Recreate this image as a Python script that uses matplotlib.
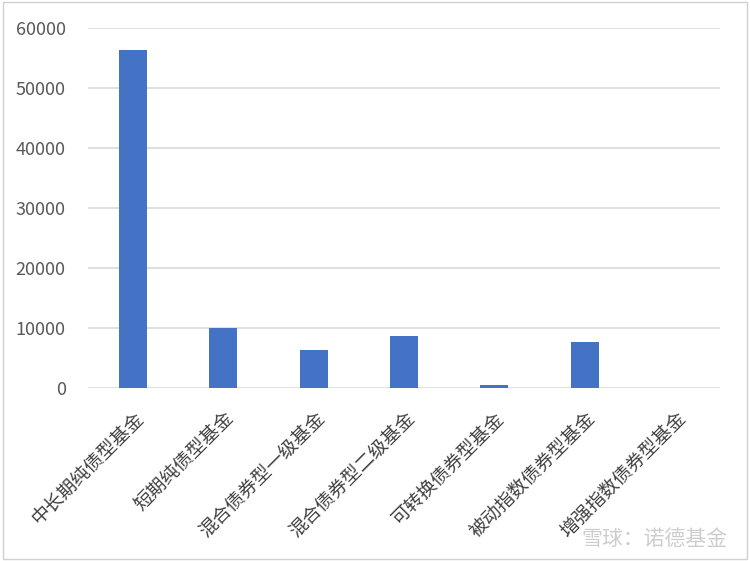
import matplotlib.pyplot as plt
from matplotlib.patches import Rectangle

plt.rcParams['font.family'] = ['Noto Sans CJK SC', 'DejaVu Sans']

# fund categories and values
categories = ['中长期纯债型基金', '短期纯债型基金', '混合债券型一级基金', '混合债券型二级基金',
              '可转换债券型基金', '被动指数债券型基金', '增强指数债券型基金']
values = [56380, 10000, 6380, 8600, 430, 7720, 30]
yticks = [0, 10000, 20000, 30000, 40000, 50000, 60000]

fig = plt.figure(figsize=(7.5, 5.61), dpi=100)
ax = fig.add_axes([88 / 750, 1 - 388 / 561, 632 / 750, 360 / 561])

ax.bar(range(len(categories)), values, width=0.31, color='#4472c4', zorder=3)
ax.set_xlim(-0.5, len(categories) - 0.5)
ax.set_ylim(0, 60000)
ax.set_yticks(yticks)
ax.yaxis.grid(True, color='#d9d9d9', linewidth=1.2, zorder=0)
ax.set_axisbelow(True)
for s in ax.spines.values():
    s.set_visible(False)
ax.tick_params(length=0, labelsize=13, labelcolor='#595959')
ax.tick_params(axis='y', pad=16)
ax.set_xticks(range(len(categories)))
ax.set_xticklabels(categories, rotation=45, ha='right', va='top',
                   rotation_mode='anchor', fontsize=13.5, color='#404040')
ax.tick_params(axis='x', pad=14)

# outer border
fig.patches.append(Rectangle((0.004, 0.004), 0.992, 0.992, transform=fig.transFigure,
                             fill=False, edgecolor='#d0d0d0', linewidth=1))

# watermark
fig.text(0.97, 0.04, '雪球：诺德基金', ha='right', va='center', fontsize=15,
         color='#c8c8c8', alpha=0.9)

fig.savefig('out.png', dpi=100)
